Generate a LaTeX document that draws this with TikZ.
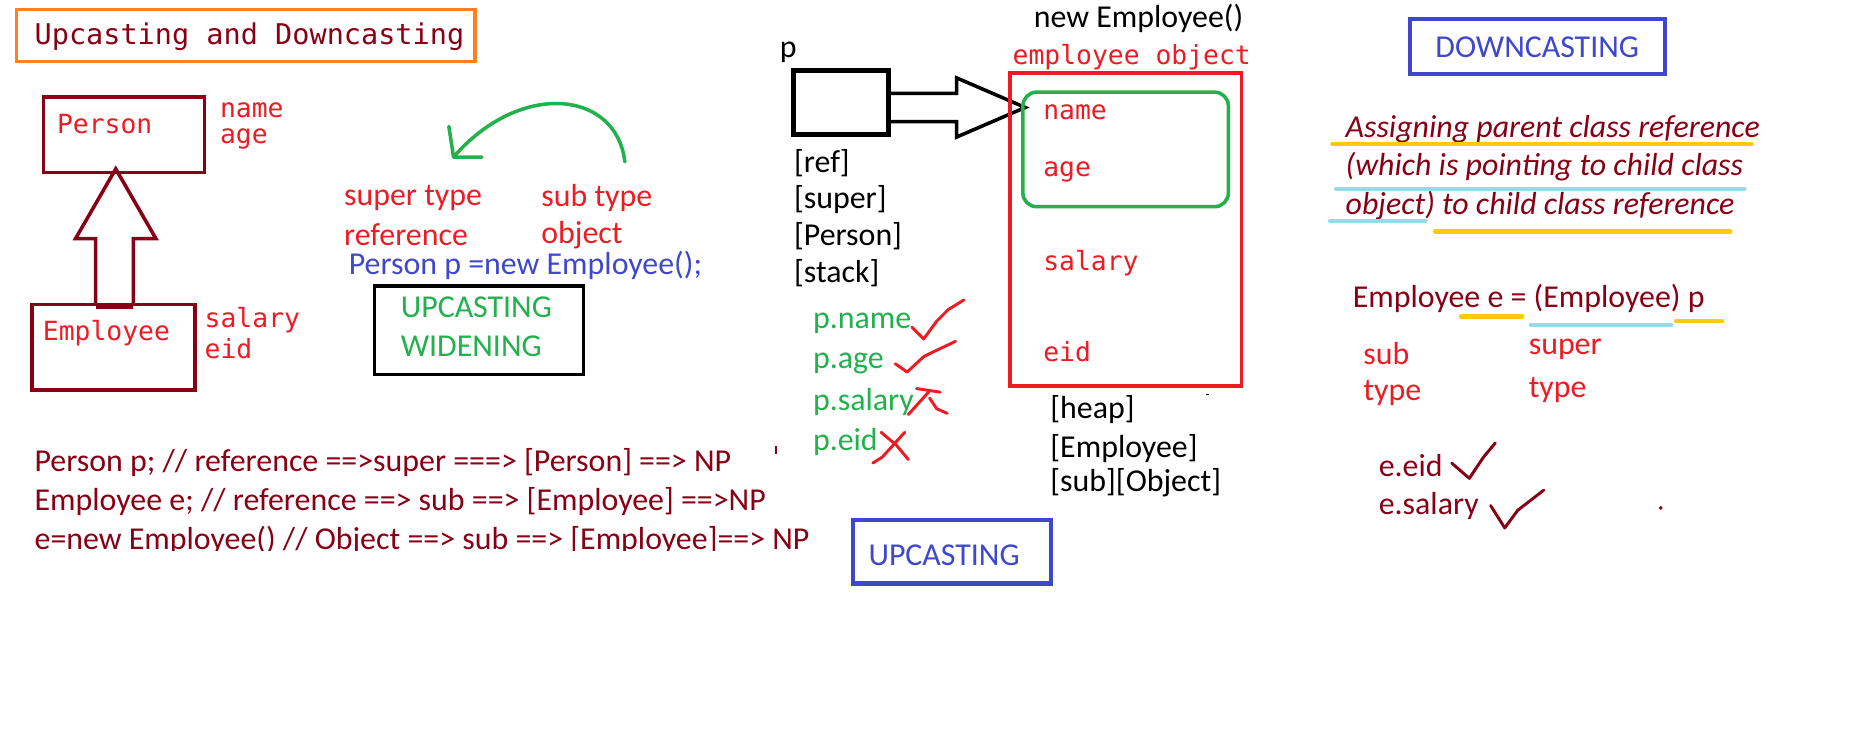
\documentclass[tikz,border=0pt]{standalone}
\usepackage{fontspec}
\setmainfont{Carlito}
\newfontfamily\consfont{DejaVu Sans Mono}
\usetikzlibrary{positioning}

\definecolor{pmaroon}{HTML}{880015}
\definecolor{pred}{HTML}{ED1C24}
\definecolor{pgreen}{HTML}{22B14C}
\definecolor{pblue}{HTML}{3F48CC}
\definecolor{porange}{HTML}{FF7F27}
\definecolor{pyellow}{HTML}{FFC90E}
\definecolor{pcyan}{HTML}{99D9EA}

\begin{document}
\begin{tikzpicture}[x=0.6pt,y=-0.6pt,
            txt/.style={anchor=west,inner sep=0pt,font=\fontsize{16.2}{19}\selectfont},
            itx/.style={anchor=west,inner sep=0pt,font=\fontsize{16.2}{19}\selectfont\itshape},
            mono/.style={anchor=west,inner sep=0pt,font=\consfont\fontsize{13.4}{16}\selectfont},
            box/.style={line width=1.8pt},
            uline/.style={line width=2.1pt,line cap=round},
            tick/.style={line width=1.5pt,line cap=round,line join=round}]
 \fill[white] (0,0) rectangle (1568,629);
 \useasboundingbox (0,0) rectangle (1568,629);

 % title and class boxes
 \draw[box,porange] (14,8) rectangle (402,52);
 \node[mono,font=\consfont\fontsize{14.5}{17}\selectfont,text=pmaroon] (title) at (29,31) {Upcasting and Downcasting};
 \draw[box,pmaroon] (37,82) rectangle (173,146);
 \node[mono,text=pred] (person) at (48,105) {Person};
 \node[mono,text=pred] (pname) at (186,93) {name};
 \node[mono,text=pred] (page) at (186,118) {age};
 \draw[box,pmaroon] (27,258) rectangle (165,330);
 \node[mono,text=pred] (employee) at (36,282) {Employee};
 \node[mono,text=pred] (esalary) at (173,271) {salary};
 \node[mono,text=pred] (eeid) at (173,295) {eid};
 \draw[box,pmaroon,line join=miter] (81,259) -- (81,202) -- (64,202) -- (98,143)
   -- (132,202) -- (113,202) -- (113,259);
 \draw[pmaroon,line width=3pt] (81,259) -- (113,259);

 % super / sub
 \coordinate (gstart) at (529,137);
 \coordinate (gend) at (384,133);
 \draw[box,pgreen,line cap=round] (gstart) .. controls (522,76) and (440,68) .. (gend);
 \draw[box,pgreen,line cap=round,line join=round] (380,107) -- (gend) -- (408,133);
 \node[txt,text=pred] (supt) at (291,168) {super type};
 \node[txt,text=pred] (supref) at (291,199) {reference};
 \node[txt,text=pred] (subt) at (458,168) {sub type};
 \node[txt,text=pred] (subobj) at (458,199) {object};
 \node[txt,text=pblue] (decl) at (295,225) {Person p =new Employee();};
 \draw[box] (317,242) rectangle (494,317);
 \node[txt,text=pgreen] (upc) at (339,260) {UPCASTING};
 \node[txt,text=pgreen] (widen) at (339,293) {WIDENING};

 \node[txt,text=pmaroon] (code1) at (29,392) {Person p; // reference ==>super ===> [Person] ==> NP};
 \node[txt,text=pmaroon] (code2) at (29,425) {Employee e; // reference ==> sub ==> [Employee] ==>NP};
 \begin{scope}
   \clip (0,440) rectangle (720,466);
   \node[txt,anchor=base west,text=pmaroon] (code3) at (29,465.5) {e=new Employee() // Object ==> sub ==> [Employee]==> NP};
 \end{scope}
 \draw[pmaroon,line width=0.8pt] (657,378) -- (657,384);

 % stack and heap
 \node[txt] (pvar) at (660,44) {p};
 \draw[line width=2.4pt] (672,60) rectangle (752,114);
 \draw[box,line join=miter] (752,79) -- (810,79) -- (810,66) -- (868,91)
   -- (810,116) -- (810,103) -- (752,103);
 \node[txt] (sref) at (672,138) {[ref]};
 \node[txt] (ssuper) at (672,169) {[super]};
 \node[txt] (sperson) at (672,200) {[Person]};
 \node[txt] (sstack) at (672,231) {[stack]};
 \node[txt,text=pgreen] (acc1) at (688,274) {p.name};
 \node[txt,text=pgreen] (acc2) at (688,308) {p.age};
 \node[txt,text=pgreen] (acc3) at (688,340) {p.salary};
 \node[txt,text=pgreen] (acc4) at (688,374) {p.eid};
 \draw[tick,pred] (772,277) -- (782,287) -- (793,272) -- (803,262) -- (816,254);
 \draw[tick,pred] (758,308) -- (768,315) -- (782,302) -- (790,298) -- (809,289);
 \draw[tick,pred] (769,351) -- (787,331);
 \draw[tick,pred] (776,329) -- (796,332);
 \draw[tick,pred] (787,337) -- (793,346) -- (802,350);
 \draw[tick,pred] (739,392) -- (747,387) -- (766,366);
 \draw[tick,pred] (746,366) -- (759,377) -- (769,389);

 \node[txt] (newemp) at (875,16) {new Employee()};
 \node[mono,text=pred] (eobj) at (857,48) {employee object};
 \draw[box,pred] (855,62) rectangle (1051,327);
 \draw[box,pgreen,rounded corners=7pt] (866,78) rectangle (1040,175);
 \node[mono,text=pred] (oname) at (883,95) {name};
 \node[mono,text=pred] (oage) at (883,146) {age};
 \node[mono,text=pred] (osalary) at (883,223) {salary};
 \node[mono,text=pred] (oeid) at (883,298) {eid};
 \node[txt] (hheap) at (889,347) {[heap]};
 \node[txt] (hemp) at (889,380) {[Employee]};
 \node[txt] (hsub) at (889,409) {[sub][Object]};
 \draw[line width=0.8pt] (1021,334) -- (1024,334);
 \draw[line width=2.1pt,pblue] (722,440) rectangle (890,494);
 \node[txt,text=pblue] (upcast) at (735,470) {UPCASTING};

 % downcasting
 \draw[line width=2.1pt,pblue] (1194,16) rectangle (1410,63);
 \node[txt,text=pblue] (downcast) at (1215,40) {DOWNCASTING};
 \node[itx,text=pmaroon] (def1) at (1139,109) {Assigning parent class reference};
 \node[itx,text=pmaroon] (def2) at (1139,141) {(which is pointing to child class};
 \node[itx,text=pmaroon] (def3) at (1139,174) {object) to child class reference};
 \draw[uline,pyellow] (1128,122) -- (1483,122);
 \draw[uline,pcyan] (1131,160) -- (1477,160);
 \draw[uline,pcyan] (1126,187) -- (1207,187);
 \draw[uline,pyellow] (1215,196) -- (1465,196);
 \node[txt,text=pmaroon] (cast) at (1145,253) {Employee e = (Employee) p};
 \draw[uline,pyellow] (1237,268) -- (1289,268);
 \draw[uline,pcyan] (1296,275) -- (1415,275);
 \draw[uline,pyellow] (1419,272) -- (1458,272);
 \node[txt,text=pred] (dsub) at (1154,299) {sub};
 \node[txt,text=pred] (dsubt) at (1154,333) {type};
 \node[txt,text=pred] (dsup) at (1294,296) {super};
 \node[txt,text=pred] (dsupt) at (1294,330) {type};
 \node[txt,text=pmaroon] (eacc1) at (1167,394) {e.eid};
 \node[txt,text=pmaroon] (eacc2) at (1167,428) {e.salary};
 \draw[tick,pmaroon] (1229,392) -- (1244,405) -- (1256,387) -- (1266,375);
 \draw[tick,pmaroon] (1262,428) -- (1274,447) -- (1285,432) -- (1307,415);
 \fill[pmaroon] (1406,430) circle (1pt);
\end{tikzpicture}
\end{document}
